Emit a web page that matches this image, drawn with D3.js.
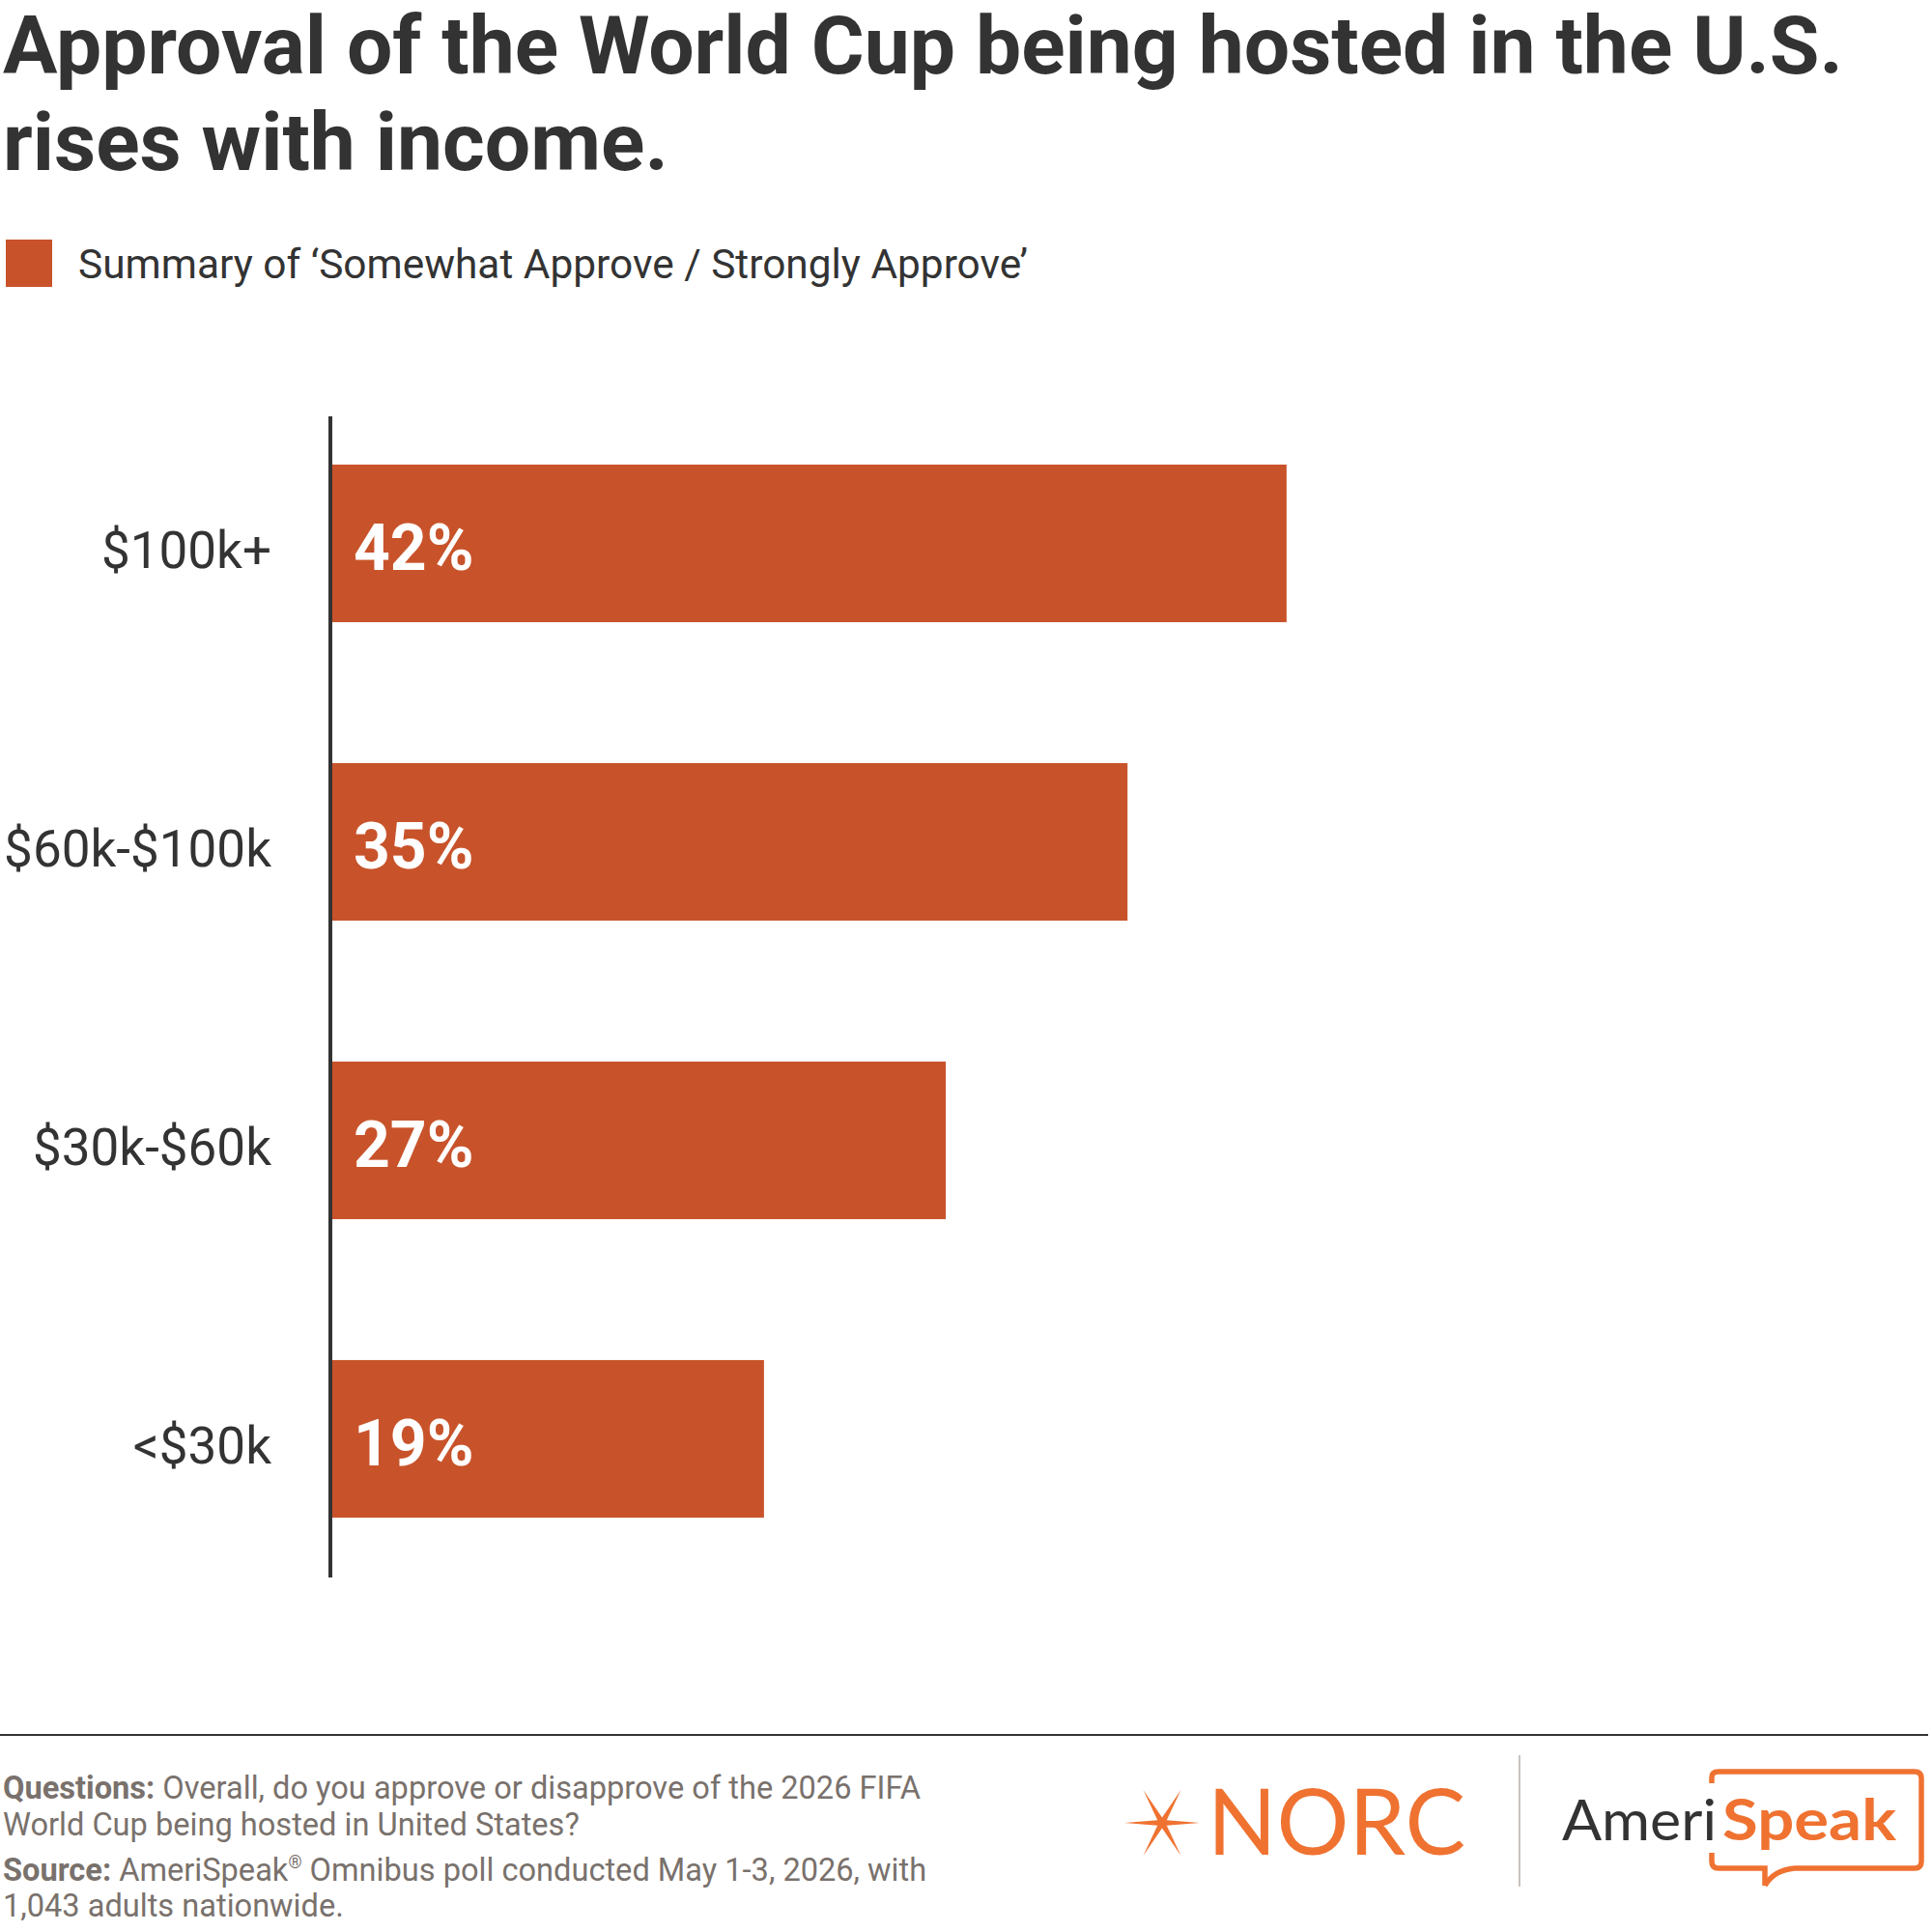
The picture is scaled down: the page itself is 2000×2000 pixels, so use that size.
<!DOCTYPE html>
<html>
<head>
<meta charset="utf-8">
<script src="https://cdn.jsdelivr.net/npm/d3@7"></script>
<style>
  body { margin: 0; background: #fff; }
  svg { display: block; font-family: Roboto, sans-serif; }
</style>
</head>
<body>
<svg class="chart"></svg>
<script>
var categories = ['$100k+', '$60k-$100k', '$30k-$60k', '<$30k'];
var values = [42, 35, 27, 19];
var titleLines = ['Approval of the World Cup being hosted in the U.S.', 'rises with income.'];
var legendLabel = 'Summary of \u2018Somewhat Approve / Strongly Approve\u2019';

var width = 2000;
var height = 2000;
var barColor = '#c8532a';
var orange = '#ef7231';
var dark = '#333333';
var grey = '#79716c';

var chart = d3.select('.chart')
  .attr('width', width)
  .attr('height', height);

// title
var title = chart.append('text')
  .attr('fill', dark)
  .attr('font-weight', 700)
  .attr('font-size', 84);
title.selectAll('tspan')
  .data(titleLines)
  .enter().append('tspan')
  .attr('x', 3)
  .attr('y', (d, i) => 76 + i * 100)
  .text(d => d);

// legend
chart.append('rect')
  .attr('x', 6).attr('y', 248)
  .attr('width', 48).attr('height', 49)
  .attr('fill', barColor);
chart.append('text')
  .attr('x', 81).attr('y', 288)
  .attr('font-size', 42.4)
  .attr('fill', dark)
  .text(legendLabel);

// scales
var x = d3.scaleLinear().domain([0, 100]).range([344, 344 + 2352]);
var y = d3.scaleBand()
  .domain(categories)
  .range([408, 1644])
  .paddingInner(0.472)
  .paddingOuter(0.236);

// bars
chart.append('g')
  .selectAll('rect')
  .data(values)
  .enter().append('rect')
  .attr('x', x(0))
  .attr('y', (d, i) => y(categories[i]))
  .attr('width', d => x(d) - x(0))
  .attr('height', y.bandwidth())
  .attr('fill', barColor);

// value labels
chart.append('g')
  .selectAll('text')
  .data(values)
  .enter().append('text')
  .attr('x', x(0) + 22)
  .attr('y', (d, i) => y(categories[i]) + y.bandwidth() / 2 + 27)
  .attr('font-size', 66)
  .attr('font-weight', 700)
  .attr('fill', '#fff')
  .text(d => d + '%');

// category axis
var axis = chart.append('g')
  .attr('transform', 'translate(' + x(0) + ',0)')
  .call(d3.axisLeft(y).tickSize(0).tickPadding(63));
axis.select('.domain').remove();
axis.selectAll('text')
  .attr('font-family', 'Roboto, sans-serif')
  .attr('font-size', 53)
  .attr('fill', dark)
  .attr('dy', null)
  .attr('y', 25);

chart.append('line')
  .attr('x1', 342).attr('x2', 342)
  .attr('y1', 431).attr('y2', 1633)
  .attr('stroke', dark)
  .attr('stroke-width', 4);

// footer
chart.append('line')
  .attr('x1', 0).attr('x2', 1996)
  .attr('y1', 1796).attr('y2', 1796)
  .attr('stroke', dark)
  .attr('stroke-width', 2);

var notes = [
  [['Questions: ', 700], ['Overall, do you approve or disapprove of the 2026 FIFA', 400]],
  [['World Cup being hosted in United States?', 400]],
  [['Source: ', 700], ['AmeriSpeak', 400], ['\u00ae', 400, true], [' Omnibus poll conducted May 1-3, 2026, with', 400]],
  [['1,043 adults nationwide.', 400]]
];
var noteY = [1862, 1900, 1947, 1984];
notes.forEach((row, i) => {
  var t = chart.append('text')
    .attr('x', 3).attr('y', noteY[i])
    .attr('font-size', 32.6)
    .attr('fill', grey);
  row.forEach(p => {
    var s = t.append('tspan')
      .attr('font-weight', p[1])
      .text(p[0]);
    if (p[2]) s.attr('font-size', 18).attr('baseline-shift', '70%');
  });
});

// NORC logo: six-ray star + wordmark
var star = [];
var rays = [[39, 0], [19.5, -34], [-19.5, -34], [-39, 0], [-19.5, 34], [19.5, 34]];
rays.forEach((r, i) => {
  var a = Math.atan2(r[1], r[0]);
  var n = rays[(i + 1) % rays.length];
  var b = (a + Math.atan2(n[1], n[0]) + (i === 2 || i === 5 ? 0 : 0)) / 2;
  star.push(r);
  var mid = Math.atan2(Math.sin(a) + Math.sin(Math.atan2(n[1], n[0])), Math.cos(a) + Math.cos(Math.atan2(n[1], n[0])));
  star.push([Math.cos(mid) * 5.5, Math.sin(mid) * 5.5]);
});
chart.append('path')
  .attr('transform', 'translate(1203,1887)')
  .attr('d', 'M' + star.map(p => p.join(',')).join('L') + 'Z')
  .attr('fill', orange);
chart.append('text')
  .attr('x', 1250).attr('y', 1920)
  .attr('font-family', 'Lato, sans-serif')
  .attr('font-size', 95)
  .attr('textLength', 267)
  .attr('lengthAdjust', 'spacingAndGlyphs')
  .attr('fill', orange)
  .text('NORC');

chart.append('line')
  .attr('x1', 1573).attr('x2', 1573)
  .attr('y1', 1817).attr('y2', 1953)
  .attr('stroke', '#c9c3be')
  .attr('stroke-width', 2);

// AmeriSpeak logo
chart.append('text')
  .attr('x', 1617).attr('y', 1905)
  .attr('font-family', 'Lato, sans-serif')
  .attr('font-size', 59)
  .attr('textLength', 160)
  .attr('lengthAdjust', 'spacingAndGlyphs')
  .attr('fill', dark)
  .text('Ameri');
chart.append('text')
  .attr('x', 1783).attr('y', 1905)
  .attr('font-family', 'Lato, sans-serif')
  .attr('font-size', 59)
  .attr('font-weight', 700)
  .attr('textLength', 180)
  .attr('lengthAdjust', 'spacingAndGlyphs')
  .attr('fill', orange)
  .text('Speak');

chart.append('path')
  .attr('d', 'M1772,1846 L1772,1840 Q1772,1834 1779,1834 L1982,1834 Q1989,1834 1989,1841 L1989,1927 Q1989,1934 1982,1934 L1858,1934 Q1836,1936 1827,1952')
  .attr('fill', 'none').attr('stroke', orange).attr('stroke-width', 5.5);
chart.append('path')
  .attr('d', 'M1827,1952 L1827,1934 L1779,1934 Q1772,1934 1772,1927 L1772,1918')
  .attr('fill', 'none').attr('stroke', orange).attr('stroke-width', 5.5);
</script>
</body>
</html>
